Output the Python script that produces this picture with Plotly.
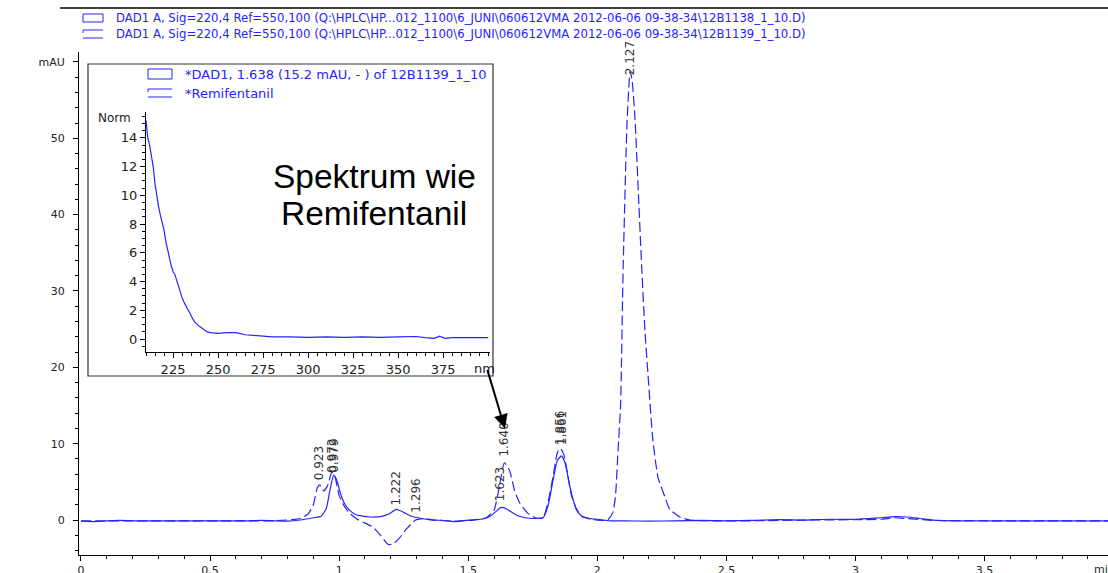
import plotly.graph_objects as go

# ---------------- data ----------------
# Chromatogram 12B1138 (solid)
t_1138 = [0.00, 0.05, 0.10, 0.15, 0.20, 0.30, 0.50, 0.65, 0.70, 0.75, 0.80, 0.85, 0.90, 0.93,
          0.95, 0.965, 0.979, 0.99, 1.005, 1.02, 1.04, 1.06, 1.09, 1.12, 1.16, 1.19, 1.222, 1.25,
          1.28, 1.32, 1.36, 1.40, 1.45, 1.50, 1.55, 1.58, 1.61, 1.623, 1.64, 1.66, 1.69, 1.72,
          1.76, 1.79, 1.81, 1.83, 1.845, 1.861, 1.875, 1.89, 1.905, 1.92, 1.94, 1.97, 2.00, 2.05,
          2.10, 2.20, 2.30, 2.40, 2.50, 2.60, 2.70, 2.80, 2.90, 3.00, 3.05, 3.10, 3.15, 3.20,
          3.25, 3.30, 3.40, 3.50, 3.70, 3.98]
a_1138 = [-0.15, -0.2, -0.1, -0.05, -0.1, -0.1, -0.1, -0.1, -0.05, -0.1, -0.15, 0.0, 0.3, 0.5,
          1.5, 4.0, 5.9, 5.3, 3.5, 2.2, 1.3, 0.8, 0.5, 0.4, 0.45, 0.75, 1.4, 1.0,
          0.5, 0.2, 0.0, -0.05, -0.2, 0.0, 0.1, 0.4, 1.2, 1.6, 1.6, 1.2, 0.6, 0.3,
          0.2, 0.3, 2.0, 5.5, 7.8, 8.4, 7.5, 5.0, 2.8, 1.3, 0.5, 0.2, 0.1, -0.1,
          -0.1, -0.15, -0.1, -0.05, -0.1, -0.05, 0.05, 0.0, 0.1, 0.1, 0.2, 0.3, 0.45, 0.4,
          0.2, 0.0, -0.1, -0.1, -0.1, -0.1]

# Chromatogram 12B1139 (dashed)
t_1139 = [0.00, 0.30, 0.60, 0.75, 0.85, 0.88, 0.90, 0.915, 0.925, 0.94, 0.955, 0.972, 0.985,
          1.00, 1.02, 1.04, 1.07, 1.10, 1.13, 1.16, 1.19, 1.21, 1.23, 1.26, 1.296, 1.33, 1.37,
          1.45, 1.52, 1.57, 1.60, 1.62, 1.64, 1.66, 1.68, 1.70, 1.73, 1.76, 1.79, 1.81, 1.83,
          1.845, 1.856, 1.87, 1.885, 1.90, 1.92, 1.94, 1.97, 2.00, 2.04, 2.06, 2.07, 2.08, 2.09,
          2.10, 2.115, 2.127, 2.135, 2.146, 2.16, 2.173, 2.185, 2.196, 2.215, 2.235, 2.262,
          2.28, 2.32, 2.36, 2.45, 2.60, 2.80, 3.00, 3.10, 3.15, 3.20, 3.30, 3.50, 3.98]
a_1139 = [-0.1, -0.1, -0.1, -0.1, 0.2, 0.8, 2.0, 4.2, 4.6, 3.8, 4.5, 6.3, 5.5,
          3.2, 1.8, 0.9, 0.1, -0.4, -0.9, -2.0, -3.2, -3.1, -2.5, -1.2, 0.0, 0.2, 0.0,
          -0.15, 0.0, 0.3, 1.3, 4.3, 7.5, 6.5, 3.8, 2.2, 0.9, 0.3, 0.3, 2.5, 6.0,
          8.8, 9.4, 8.6, 6.0, 3.2, 1.4, 0.5, 0.15, 0.0, 0.0, 1.0, 3.0, 9.0, 15.0,
          33.0, 52.0, 58.8, 57.5, 52.5, 42.0, 32.3, 24.5, 19.2, 10.5, 5.6, 3.0,
          1.4, 0.4, 0.0, -0.1, -0.1, 0.0, 0.05, 0.1, 0.3, 0.2, -0.05, -0.1, -0.1]

# Peak labels
peak_times = [0.923, 0.972, 0.979, 1.222, 1.296, 1.623, 1.640, 1.856, 1.861, 2.127]
peak_label_y = [5.0, 5.9, 5.9, 1.7, 0.65, 2.2, 8.1, 9.6, 9.6, 58.0]

# Inset spectrum (Norm vs nm)
wl = [210, 211, 212, 213, 214, 215, 216, 217, 218, 219, 220, 221, 222, 223, 224, 225, 226, 227,
      228, 229, 230, 231, 232, 233, 234, 235, 236, 237, 238, 239, 240, 242, 244, 246, 250, 255,
      260, 265, 270, 275, 280, 290, 300, 310, 320, 330, 340, 350, 360, 365, 370, 373, 376, 380,
      390, 400]
norm = [15.2, 14.0, 13.5, 12.8, 12.0, 10.8, 9.8, 9.2, 8.6, 8.1, 7.6, 6.8, 6.2, 5.6, 5.1, 4.7, 4.5, 4.1,
        3.7, 3.2, 2.9, 2.6, 2.3, 2.1, 1.9, 1.6, 1.4, 1.2, 1.05, 0.95, 0.85, 0.7, 0.5, 0.45, 0.4, 0.45,
        0.45, 0.3, 0.25, 0.15, 0.15, 0.15, 0.12, 0.15, 0.12, 0.15, 0.12, 0.15, 0.18, 0.1, 0.05, 0.2, 0.05, 0.1,
        0.12, 0.1]
inset_xticks = [225, 250, 275, 300, 325, 350, 375]

legend_main = [
    r"DAD1 A, Sig=220,4 Ref=550,100 (Q:\HPLC\HP...012_1100\6_JUNI\060612VMA 2012-06-06 09-38-34\12B1138_1_10.D)",
    r"DAD1 A, Sig=220,4 Ref=550,100 (Q:\HPLC\HP...012_1100\6_JUNI\060612VMA 2012-06-06 09-38-34\12B1139_1_10.D)",
]
legend_inset = ["*DAD1, 1.638 (15.2 mAU, - ) of 12B1139_1_10", "*Remifentanil"]

# ---------------- layout helpers ----------------
W, H = 1108, 573
L, R, T, B = 79, 1108, 52, 555
def px(x):
    return (x - L) / (R - L)
def py(y):
    return (B - y) / (B - T)

BLUE = "#2424ff"
FONT = "Arial, Liberation Sans, sans-serif"
WIDEFONT = "DejaVu Sans, Verdana, sans-serif"
TICKC = "#222222"

fig = go.Figure()
fig.add_trace(go.Scatter(x=t_1138, y=a_1138, mode="lines", line=dict(color=BLUE, width=1.2, shape="spline", smoothing=0.5),
                         showlegend=False, hoverinfo="skip"))
fig.add_trace(go.Scatter(x=t_1139, y=a_1139, mode="lines", line=dict(color=BLUE, width=1.2, dash="10px,4px", shape="spline", smoothing=0.5),
                         showlegend=False, hoverinfo="skip"))
fig.add_trace(go.Scatter(x=wl, y=norm, mode="lines", xaxis="x2", yaxis="y2",
                         line=dict(color=BLUE, width=1.2), showlegend=False, hoverinfo="skip"))

shapes = []
annotations = []

# inset box
shapes.append(dict(type="rect", xref="paper", yref="paper", x0=px(88), x1=px(493), y0=py(376), y1=py(64),
                   line=dict(color="#333333", width=1.2), fillcolor="white", layer="below"))
# top line
shapes.append(dict(type="line", xref="paper", yref="paper", x0=px(60), x1=px(1108), y0=py(8), y1=py(8),
                   line=dict(color="black", width=1.5)))

# main legend
for i, txt in enumerate(legend_main):
    yc = 18 + 16 * i
    if i == 0:
        shapes.append(dict(type="rect", xref="paper", yref="paper", x0=px(83), x1=px(103), y0=py(yc + 4), y1=py(yc - 4),
                           line=dict(color=BLUE, width=1)))
    else:
        shapes.append(dict(type="path", xref="paper", yref="paper",
                           path=f"M {px(103)} {py(yc-4)} L {px(83)} {py(yc-4)} L {px(83)} {py(yc-1)} M {px(83)} {py(yc+4)} L {px(103)} {py(yc+4)}",
                           line=dict(color=BLUE, width=1)))
    annotations.append(dict(xref="paper", yref="paper", x=px(114), y=py(yc), text=txt, showarrow=False,
                            xanchor="left", yanchor="middle", font=dict(family=WIDEFONT, size=11.7, color=BLUE)))

# inset legend
for i, txt in enumerate(legend_inset):
    yc = 74 + 19 * i
    if i == 0:
        shapes.append(dict(type="rect", xref="paper", yref="paper", x0=px(148), x1=px(172), y0=py(yc + 5), y1=py(yc - 5),
                           line=dict(color=BLUE, width=1)))
    else:
        shapes.append(dict(type="path", xref="paper", yref="paper",
                           path=f"M {px(172)} {py(yc-4)} L {px(148)} {py(yc-4)} L {px(148)} {py(yc-1)} M {px(148)} {py(yc+4)} L {px(172)} {py(yc+4)}",
                           line=dict(color=BLUE, width=1)))
    annotations.append(dict(xref="paper", yref="paper", x=px(183), y=py(yc), text=txt, showarrow=False,
                            xanchor="left", yanchor="middle", font=dict(family=WIDEFONT, size=13, color=BLUE)))

# inset text
annotations.append(dict(xref="paper", yref="paper", x=px(374), y=py(176), text="Spektrum wie", showarrow=False,
                        xanchor="center", yanchor="middle", font=dict(family=FONT, size=33.5, color="black")))
annotations.append(dict(xref="paper", yref="paper", x=px(374), y=py(213), text="Remifentanil", showarrow=False,
                        xanchor="center", yanchor="middle", font=dict(family=FONT, size=33.5, color="black")))
annotations.append(dict(xref="paper", yref="paper", x=px(133), y=py(118), text="Norm", showarrow=False,
                        xanchor="right", yanchor="middle", font=dict(family=WIDEFONT, size=12, color=TICKC)))
annotations.append(dict(xref="paper", yref="paper", x=px(472), y=py(368), text="nm", showarrow=False,
                        xanchor="left", yanchor="middle", font=dict(family=WIDEFONT, size=13, color=TICKC)))
annotations.append(dict(xref="paper", yref="paper", x=px(1092), y=py(569), text="min", showarrow=False,
                        xanchor="left", yanchor="middle", font=dict(family=WIDEFONT, size=11, color=TICKC)))

# peak labels
for t, yl in zip(peak_times, peak_label_y):
    annotations.append(dict(x=t, y=yl, xref="x", yref="y", text=f"{t:.3f}", showarrow=False, textangle=-90,
                            xanchor="center", yanchor="bottom", font=dict(family=WIDEFONT, size=12, color="#333")))

# arrow
annotations.append(dict(x=1.642, y=12.0, xref="x", yref="y", ax=-18, ay=-60, axref="pixel", ayref="pixel",
                        text="", showarrow=True, arrowhead=2, arrowsize=1.4, arrowwidth=2, arrowcolor="black"))

fig.update_layout(
    width=W, height=H, autosize=False,
    margin=dict(l=L, r=W - R, t=T, b=H - B, autoexpand=False),
    paper_bgcolor="white", plot_bgcolor="white",
    shapes=shapes, annotations=annotations,
    xaxis=dict(range=[-0.0077, 3.978], showline=True, linecolor="black", linewidth=1, ticks="outside", ticklen=5,
               tickcolor="black", dtick=0.5, tick0=0, showgrid=False, zeroline=False, automargin=False,
               minor=dict(dtick=0.1, ticks="outside", ticklen=3, tickcolor="black"),
               tickfont=dict(family=WIDEFONT, size=11, color=TICKC)),
    yaxis=dict(range=[-4.58, 61.3], showline=True, linecolor="black", linewidth=1, ticks="outside", ticklen=5,
               tickcolor="black", tickvals=[0, 10, 20, 30, 40, 50, 60], ticktext=["0", "10", "20", "30", "40", "50", "mAU"],
               showgrid=False, zeroline=False, automargin=False, ticklabelstandoff=6,
               minor=dict(dtick=2, tick0=0, ticks="outside", ticklen=3, tickcolor="black"),
               tickfont=dict(family=WIDEFONT, size=11, color=TICKC)),
    xaxis2=dict(domain=[px(146), px(490)], anchor="y2", range=[210, 401], showline=True, linecolor="black",
                linewidth=1, ticks="outside", ticklen=5, tickcolor="black", tickvals=inset_xticks, showgrid=False,
                zeroline=False, automargin=False, minor=dict(dtick=5, ticks="outside", ticklen=3, tickcolor="black"),
                tickfont=dict(family=WIDEFONT, size=13, color=TICKC)),
    yaxis2=dict(domain=[py(352), py(112)], anchor="x2", range=[-0.9, 15.8], showline=True, linecolor="black",
                linewidth=1, ticks="outside", ticklen=5, tickcolor="black", dtick=2, tick0=0, showgrid=False,
                zeroline=False, automargin=False, minor=dict(dtick=0.5, tick0=0, ticks="outside", ticklen=3, tickcolor="black"),
                tickfont=dict(family=WIDEFONT, size=13, color=TICKC)),
)

fig.write_html("out.html", config={"displayModeBar": False},
               post_script="document.body.style.margin='0';document.body.style.padding='0';")
